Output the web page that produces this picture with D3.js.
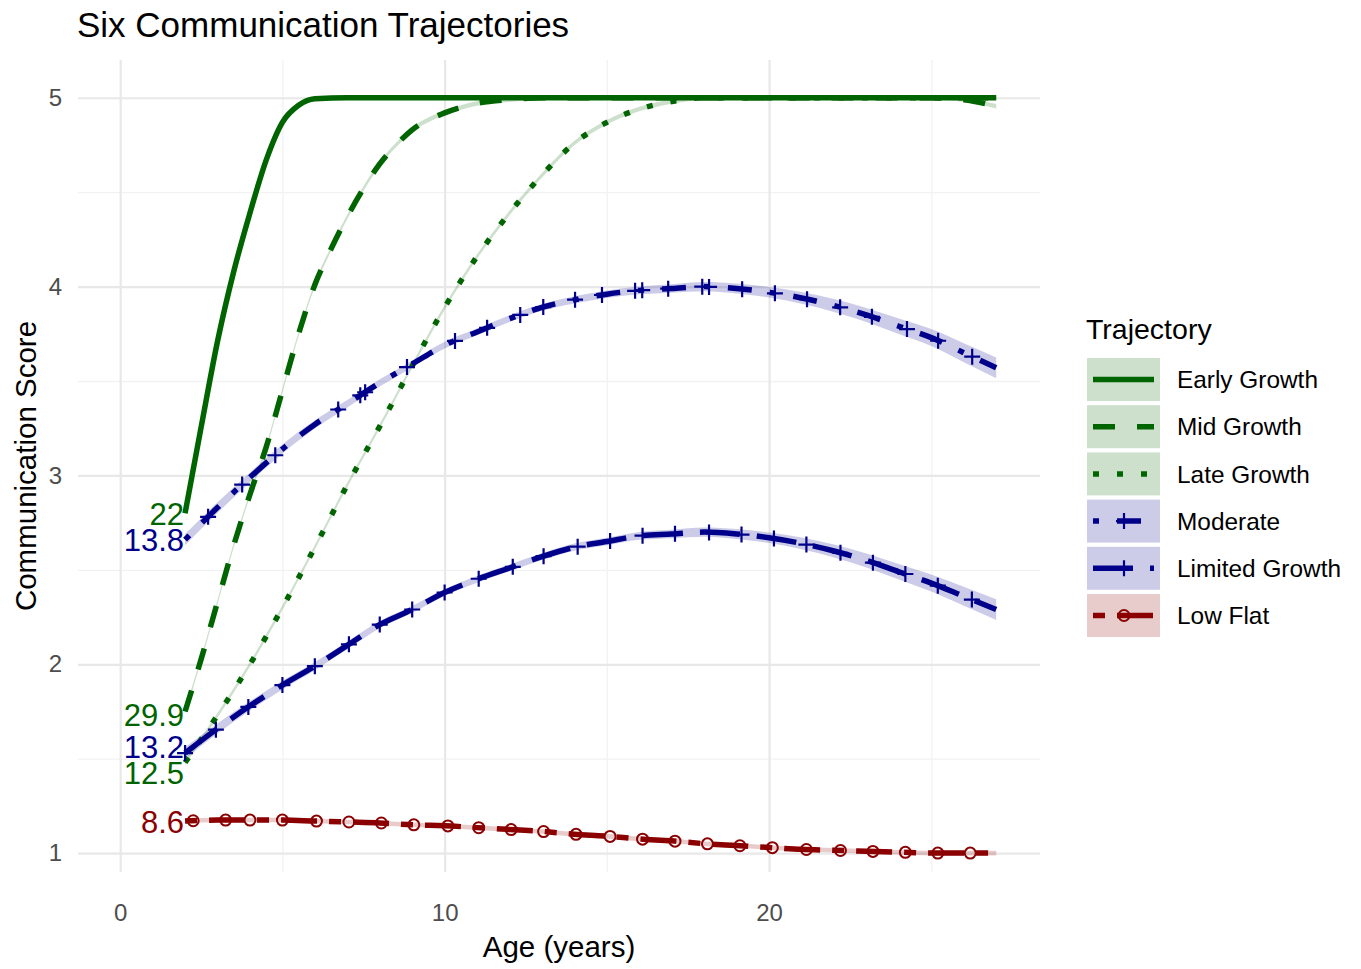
<!DOCTYPE html>
<html>
<head>
<meta charset="utf-8">
<script src="https://cdnjs.cloudflare.com/ajax/libs/d3/7.8.5/d3.min.js"></script>
<style>
  body { margin: 0; background: #fff; }
  svg text { font-family: "Liberation Sans", Arial, sans-serif; }
</style>
</head>
<body>
<svg id="chart"></svg>
<script>
// trajectory groups, in legend order, with the share (%) printed at each start
var trajectories = ['Early Growth', 'Mid Growth', 'Late Growth', 'Moderate', 'Limited Growth', 'Low Flat'];
var groupShares = ['22', '29.9', '12.5', '13.8', '13.2', '8.6'];

var earlyAges = [2, 2.5, 3, 3.5, 4, 4.5, 5, 5.5, 6, 7, 8, 9, 10, 11, 12, 13, 14, 15, 16, 17, 18, 19, 20, 21, 22, 23, 24, 25, 26, 27];
var earlyScores = [2.80, 3.26, 3.71, 4.08, 4.39, 4.67, 4.87, 4.96, 4.995, 5, 5, 5, 5, 5, 5, 5, 5, 5, 5, 5, 5, 5, 5, 5, 5, 5, 5, 5, 5, 5];

var midAges = [2, 2.5, 3, 3.5, 4, 4.5, 5, 5.5, 6, 6.5, 7, 7.5, 8, 8.5, 9, 10, 11, 12, 13, 14, 15, 16, 17, 18, 19, 20, 21, 22, 23, 24, 25, 26, 27];
var midScores = [1.75, 2.03, 2.33, 2.63, 2.90, 3.15, 3.45, 3.75, 4.01, 4.20, 4.37, 4.52, 4.65, 4.75, 4.83, 4.92, 4.97, 4.99, 5, 5, 5, 5, 5, 5, 5, 5, 5, 5, 5, 5, 5, 4.99, 4.955];

var yearAges = [2, 3, 4, 5, 6, 7, 8, 9, 10, 11, 12, 13, 14, 15, 16, 17, 18, 19, 20, 21, 22, 23, 24, 25, 26, 27];
var lateScores = [1.48, 1.73, 2.00, 2.30, 2.62, 2.95, 3.26, 3.58, 3.89, 4.16, 4.39, 4.59, 4.76, 4.87, 4.94, 4.98, 5, 5, 5, 5, 5, 5, 5, 5, 5, 5];
var moderateScores = [2.66, 2.83, 2.99, 3.14, 3.27, 3.38, 3.49, 3.59, 3.69, 3.76, 3.83, 3.89, 3.93, 3.96, 3.98, 3.99, 4.0, 3.99, 3.97, 3.94, 3.90, 3.85, 3.79, 3.73, 3.65, 3.57];
var limitedScores = [1.53, 1.66, 1.78, 1.89, 1.99, 2.10, 2.21, 2.29, 2.38, 2.45, 2.51, 2.57, 2.62, 2.65, 2.68, 2.69, 2.70, 2.69, 2.67, 2.64, 2.60, 2.55, 2.49, 2.43, 2.36, 2.29];
var lowScores = [1.17, 1.175, 1.175, 1.175, 1.17, 1.165, 1.16, 1.15, 1.145, 1.135, 1.125, 1.115, 1.10, 1.09, 1.075, 1.065, 1.05, 1.04, 1.03, 1.02, 1.015, 1.01, 1.005, 1.0, 1.0, 1.0];

// half widths of the confidence bands
var moderateBand = [0.03, 0.028, 0.026, 0.024, 0.022, 0.02, 0.019, 0.018, 0.018, 0.018, 0.018, 0.018, 0.019, 0.02, 0.021, 0.022, 0.024, 0.026, 0.028, 0.031, 0.034, 0.037, 0.041, 0.045, 0.05, 0.055];
var limitedBand = [0.03, 0.027, 0.025, 0.023, 0.021, 0.02, 0.019, 0.018, 0.018, 0.018, 0.018, 0.018, 0.019, 0.02, 0.021, 0.022, 0.024, 0.026, 0.028, 0.031, 0.034, 0.037, 0.041, 0.045, 0.05, 0.055];
var narrowBand = 0.012;

// ages where the point markers sit
var moderateMarks = [2.71, 3.76, 4.78, 6.72, 7.4, 7.55, 8.84, 10.32, 11.31, 12.33, 13.04, 14.02, 14.85, 15.87, 16.09, 16.89, 17.94, 18.15, 19.17, 20.18, 21.17, 22.19, 23.17, 24.25, 25.21, 26.26];
var limitedMarks = [2, 2.95, 3.95, 5, 6, 7.05, 8, 9, 10, 11.05, 12.1, 13.05, 14.1, 15.1, 16.1, 17.1, 18.15, 19.15, 20.15, 21.15, 22.2, 23.2, 24.2, 25.2, 26.25];
var lowMarks = [2.25, 3.25, 4, 5, 6.05, 7.05, 8.05, 9.05, 10.1, 11.05, 12.05, 13.05, 14.05, 15.1, 16.1, 17.1, 18.1, 19.1, 20.1, 21.15, 22.2, 23.2, 24.2, 25.2, 26.2];

var xMajor = [0, 10, 20];
var xMinor = [5, 15, 25];
var yMajor = [1, 2, 3, 4, 5];
var yMinor = [1.5, 2.5, 3.5, 4.5];

var chart = {
  width: 1361,
  height: 969,
  panel: { left: 78, right: 1040, top: 60, bottom: 872 },

  init: function() {
    var self = this;

    self.svg = d3.select('#chart')
        .attr('width', self.width)
        .attr('height', self.height)
        .style('background', '#fff');

    self.x = d3.scaleLinear().domain([-1.3, 28.35]).range([self.panel.left, self.panel.right]);
    self.y = d3.scaleLinear().domain([0.9, 5.2]).range([self.panel.bottom, self.panel.top]);

    var green = '#006400', blue = '#00008b', red = '#8b0000';
    self.series = [
      { name: trajectories[0], ages: earlyAges, scores: earlyScores, band: narrowBand, color: green, dash: null },
      { name: trajectories[1], ages: midAges, scores: midScores, band: narrowBand, color: green, dash: '22,22' },
      { name: trajectories[2], ages: yearAges, scores: lateScores, band: narrowBand, color: green, dash: '6,18' },
      { name: trajectories[3], ages: yearAges, scores: moderateScores, band: moderateBand, color: blue, dash: '6,18,24,18', marks: moderateMarks, shape: 'plus' },
      { name: trajectories[4], ages: yearAges, scores: limitedScores, band: limitedBand, color: blue, dash: '40,17', marks: limitedMarks, shape: 'plus' },
      { name: trajectories[5], ages: yearAges, scores: lowScores, band: narrowBand, color: red, dash: '12,12,36,12', marks: lowMarks, shape: 'circle' }
    ];
    // label nudges (px) where the start labels were pushed apart
    self.labelNudge = [1, 3, 10, 0, -6, 1];

    self.drawGrid();
    self.drawSeries();
    self.drawText();
    self.drawLegend();
  },

  drawGrid: function() {
    var self = this;
    var p = self.panel;

    var grid = self.svg.append('g').attr('class', 'grid');
    var minorX = grid.append('g').attr('transform', 'translate(0,' + p.bottom + ')')
        .call(d3.axisBottom(self.x).tickValues(xMinor).tickSize(-(p.bottom - p.top)).tickFormat(''));
    var minorY = grid.append('g').attr('transform', 'translate(' + p.left + ',0)')
        .call(d3.axisLeft(self.y).tickValues(yMinor).tickSize(-(p.right - p.left)).tickFormat(''));
    [minorX, minorY].forEach(function(g) {
      g.select('.domain').remove();
      g.selectAll('line').attr('stroke', '#f2f2f2').attr('stroke-width', 1.3);
    });

    var majorX = grid.append('g').attr('transform', 'translate(0,' + p.bottom + ')')
        .call(d3.axisBottom(self.x).tickValues(xMajor).tickSize(-(p.bottom - p.top))
            .tickPadding(32).tickFormat(d3.format('d')));
    var majorY = grid.append('g').attr('transform', 'translate(' + p.left + ',0)')
        .call(d3.axisLeft(self.y).tickValues(yMajor).tickSize(-(p.right - p.left))
            .tickPadding(16).tickFormat(d3.format('d')));
    [majorX, majorY].forEach(function(g) {
      g.select('.domain').remove();
      g.selectAll('line').attr('stroke', '#e8e8e8').attr('stroke-width', 2.2);
      g.selectAll('text')
          .attr('fill', '#4d4d4d')
          .style('font-size', '24px')
          .style('font-family', '"Liberation Sans", Arial, sans-serif');
    });
  },

  valueAt: function(s, age) {
    var i = d3.bisectLeft(s.ages, age);
    if (i <= 0) return s.scores[0];
    if (i >= s.ages.length) return s.scores[s.ages.length - 1];
    var t = (age - s.ages[i - 1]) / (s.ages[i] - s.ages[i - 1]);
    return s.scores[i - 1] + t * (s.scores[i] - s.scores[i - 1]);
  },

  drawSeries: function() {
    var self = this;
    var bandOf = function(s, i) { return Array.isArray(s.band) ? s.band[i] : s.band; };

    var ribbons = self.svg.append('g').attr('class', 'ribbons');
    self.series.forEach(function(s) {
      var area = d3.area()
          .curve(d3.curveMonotoneX)
          .x(function(d, i) { return self.x(s.ages[i]); })
          .y0(function(d, i) { return self.y(d - bandOf(s, i)); })
          .y1(function(d, i) { return self.y(d + bandOf(s, i)); });
      ribbons.append('path')
          .attr('d', area(s.scores))
          .attr('fill', s.color)
          .attr('fill-opacity', 0.2);
    });

    var lines = self.svg.append('g').attr('class', 'lines');
    self.series.forEach(function(s) {
      var line = d3.line()
          .curve(d3.curveMonotoneX)
          .x(function(d, i) { return self.x(s.ages[i]); })
          .y(function(d) { return self.y(d); });
      lines.append('path')
          .attr('d', line(s.scores))
          .attr('fill', 'none')
          .attr('stroke', s.color)
          .attr('stroke-width', 5.5)
          .attr('stroke-dasharray', s.dash);
    });

    var points = self.svg.append('g').attr('class', 'points');
    self.series.forEach(function(s) {
      if (!s.marks) return;
      s.marks.forEach(function(a) {
        self.drawMarker(points, s, self.x(a), self.y(self.valueAt(s, a)));
      });
    });
  },

  drawMarker: function(g, s, cx, cy) {
    if (s.shape === 'plus') {
      g.append('path')
          .attr('d', 'M' + (cx - 8) + ',' + cy + 'H' + (cx + 8) + 'M' + cx + ',' + (cy - 8) + 'V' + (cy + 8))
          .attr('stroke', s.color)
          .attr('stroke-width', 2.2)
          .attr('fill', 'none');
    } else {
      g.append('circle')
          .attr('cx', cx)
          .attr('cy', cy)
          .attr('r', 5.5)
          .attr('stroke', s.color)
          .attr('stroke-width', 2)
          .attr('fill', 'none');
    }
  },

  drawText: function() {
    var self = this;
    var p = self.panel;

    var labels = self.svg.append('g').attr('class', 'start-labels');
    self.series.forEach(function(s, i) {
      labels.append('text')
          .attr('x', self.x(s.ages[0]) - 1)
          .attr('y', self.y(s.scores[0]) + self.labelNudge[i])
          .attr('dy', '0.36em')
          .attr('text-anchor', 'end')
          .attr('fill', s.color)
          .style('font-size', '31px')
          .text(groupShares[i]);
    });

    self.svg.append('text')
        .attr('x', 77)
        .attr('y', 37)
        .style('font-size', '35px')
        .attr('fill', '#000')
        .text('Six Communication Trajectories');

    self.svg.append('text')
        .attr('x', (p.left + p.right) / 2)
        .attr('y', 957)
        .attr('text-anchor', 'middle')
        .style('font-size', '29.5px')
        .text('Age (years)');

    self.svg.append('text')
        .attr('transform', 'translate(36,' + ((p.top + p.bottom) / 2) + ') rotate(-90)')
        .attr('text-anchor', 'middle')
        .style('font-size', '29.5px')
        .text('Communication Score');
  },

  drawLegend: function() {
    var self = this;
    var lg = self.svg.append('g').attr('transform', 'translate(1087,0)');

    lg.append('text')
        .attr('x', -1)
        .attr('y', 339)
        .style('font-size', '28.5px')
        .text('Trajectory');

    self.series.forEach(function(s, i) {
      var top = 358 + i * 47.2;
      var row = lg.append('g').attr('transform', 'translate(0,' + top + ')');
      row.append('rect')
          .attr('width', 73)
          .attr('height', 43)
          .attr('fill', s.color)
          .attr('fill-opacity', 0.2);
      row.append('line')
          .attr('x1', 6).attr('x2', 67)
          .attr('y1', 21.5).attr('y2', 21.5)
          .attr('stroke', s.color)
          .attr('stroke-width', 5.5)
          .attr('stroke-dasharray', s.dash);
      if (s.marks) self.drawMarker(row, s, 37, 21.5);
      row.append('text')
          .attr('x', 90)
          .attr('y', 21.5)
          .attr('dy', '0.36em')
          .style('font-size', '24.4px')
          .text(s.name);
    });
  }
};

chart.init();
</script>
</body>
</html>
